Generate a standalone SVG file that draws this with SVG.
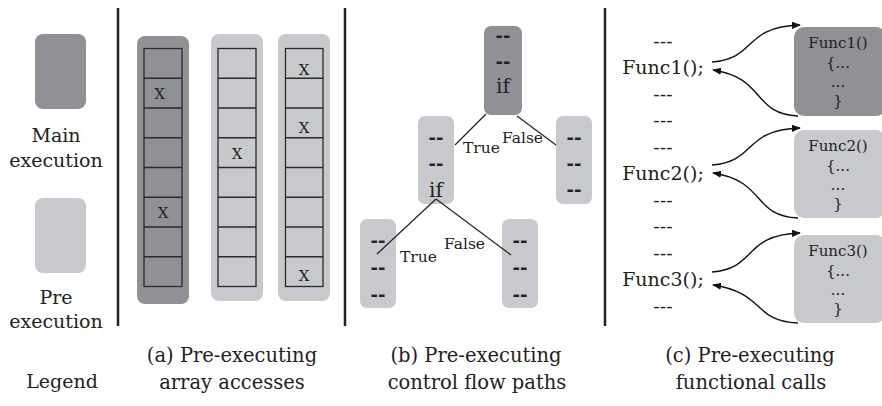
<svg xmlns="http://www.w3.org/2000/svg" width="882" height="406" viewBox="0 0 882 406">
<defs>
<style>
text{font-family:"DejaVu Serif","Liberation Serif",serif;fill:#222}
.cap{font-size:19.5px;text-anchor:middle}
.lg{font-size:19px;text-anchor:middle}
.dark{fill:#909195}
.light{fill:#c8c9cc}
.sep{stroke:#222;stroke-width:2.5}
.cell{fill:none;stroke:#2a2a2a;stroke-width:1.3}
.x{font-size:15px;text-anchor:middle}
.dd{font-size:18px;text-anchor:middle;font-weight:bold}
.iff{font-size:20px;text-anchor:middle}
.edge{stroke:#222;stroke-width:1.2;fill:none}
.lbl{font-size:15.5px}
.code{font-size:19px;text-anchor:middle}
.fn{font-size:15px;text-anchor:middle}
.call{stroke:#111;stroke-width:1.4;fill:none;marker-end:url(#ah)}
</style>
<marker id="ah" viewBox="0 0 10 10" refX="9" refY="5" markerWidth="9" markerHeight="9" markerUnits="userSpaceOnUse" orient="auto">
<path d="M0,1 L10,5 L0,9 z" fill="#111"/>
</marker>
</defs>
<rect width="882" height="406" fill="#fff"/>

<g id="separators">
<line class="sep" x1="118" y1="8" x2="118" y2="326"/>
<line class="sep" x1="345" y1="8" x2="345" y2="326"/>
<line class="sep" x1="605" y1="8" x2="605" y2="326"/>
</g>

<g id="legend">
<rect class="dark" x="35" y="34" width="51" height="75" rx="8"/>
<text class="lg" x="56" y="142">Main</text>
<text class="lg" x="56" y="167">execution</text>
<rect class="light" x="35" y="198" width="51" height="75" rx="8"/>
<text class="lg" x="56" y="304">Pre</text>
<text class="lg" x="56" y="328">execution</text>
<text class="lg" x="62" y="388">Legend</text>
</g>

<g id="array-main">
<rect class="dark" x="137" y="36" width="52" height="268" rx="8"/>
<rect class="cell" x="144" y="48.5" width="38" height="238"/>
<path class="cell" d="M144,78.25H182M144,108H182M144,137.75H182M144,167.5H182M144,197.25H182M144,227H182M144,256.75H182"/>
<text class="x" x="159.5" y="99">X</text>
<text class="x" x="163" y="218">X</text>
</g>
<g id="array-pre1">
<rect class="light" x="211" y="34" width="52" height="267" rx="8"/>
<rect class="cell" x="218" y="48.5" width="38" height="238"/>
<path class="cell" d="M218,78.25H256M218,108H256M218,137.75H256M218,167.5H256M218,197.25H256M218,227H256M218,256.75H256"/>
<text class="x" x="237" y="158.5">X</text>
</g>
<g id="array-pre2">
<rect class="light" x="278" y="34" width="52" height="267" rx="8"/>
<rect class="cell" x="285.5" y="48.5" width="37.5" height="238"/>
<path class="cell" d="M285.5,78.25H323M285.5,108H323M285.5,137.75H323M285.5,167.5H323M285.5,197.25H323M285.5,227H323M285.5,256.75H323"/>
<text class="x" x="304" y="75">X</text>
<text class="x" x="304" y="133">X</text>
<text class="x" x="304" y="281">X</text>
</g>

<g id="cf-root">
<rect class="dark" x="484" y="26" width="38" height="89" rx="7"/>
<text class="dd" x="503" y="42">--</text>
<text class="dd" x="503" y="68">--</text>
<text class="iff" x="503" y="93">if</text>
</g>
<g id="cf-true">
<rect class="light" x="418" y="116" width="36" height="88" rx="7"/>
<text class="dd" x="436" y="144">--</text>
<text class="dd" x="436" y="170">--</text>
<text class="iff" x="436" y="197">if</text>
</g>
<g id="cf-false">
<rect class="light" x="556" y="116" width="36" height="88" rx="7"/>
<text class="dd" x="574" y="144">--</text>
<text class="dd" x="574" y="170">--</text>
<text class="dd" x="574" y="196">--</text>
</g>
<g id="cf-true-true">
<rect class="light" x="360" y="219" width="36" height="89" rx="7"/>
<text class="dd" x="378" y="247">--</text>
<text class="dd" x="378" y="274">--</text>
<text class="dd" x="378" y="301">--</text>
</g>
<g id="cf-true-false">
<rect class="light" x="502" y="219" width="36" height="89" rx="7"/>
<text class="dd" x="520" y="247">--</text>
<text class="dd" x="520" y="274">--</text>
<text class="dd" x="520" y="301">--</text>
</g>

<g id="code">
<text class="code" x="663" y="48">---</text>
<text class="code" x="663" y="74">Func1();</text>
<text class="code" x="663" y="101">---</text>
<text class="code" x="663" y="127">---</text>
<text class="code" x="663" y="154">---</text>
<text class="code" x="663" y="180">Func2();</text>
<text class="code" x="663" y="207">---</text>
<text class="code" x="663" y="233">---</text>
<text class="code" x="663" y="260">---</text>
<text class="code" x="663" y="286">Func3();</text>
<text class="code" x="663" y="313">---</text>
</g>
<g id="func1">
<rect class="dark" x="794" y="27" width="92" height="89" rx="10"/>
<text class="fn" x="838" y="48">Func1()</text>
<text class="fn" x="838" y="68">{...</text>
<text class="fn" x="838" y="87">...</text>
<text class="fn" x="838" y="106">}</text>
</g>
<g id="func2">
<rect class="light" x="794" y="130" width="92" height="88" rx="10"/>
<text class="fn" x="838" y="151">Func2()</text>
<text class="fn" x="838" y="171">{...</text>
<text class="fn" x="838" y="190">...</text>
<text class="fn" x="838" y="209">}</text>
</g>
<g id="func3">
<rect class="light" x="794" y="235" width="92" height="88" rx="10"/>
<text class="fn" x="838" y="256">Func3()</text>
<text class="fn" x="838" y="276">{...</text>
<text class="fn" x="838" y="295">...</text>
<text class="fn" x="838" y="314">}</text>
</g>

<g id="connectors">
<line class="edge" x1="486" y1="114" x2="455" y2="145"/>
<line class="edge" x1="517" y1="116" x2="556" y2="145"/>
<line class="edge" x1="436" y1="199" x2="377" y2="254"/>
<line class="edge" x1="436" y1="199" x2="511" y2="255"/>
<text class="lbl" x="463" y="153">True</text>
<text class="lbl" x="502" y="143">False</text>
<text class="lbl" x="400" y="262">True</text>
<text class="lbl" x="444" y="249">False</text>
<path class="call" d="M712,62 C758,58 742,27 800,25"/>
<path class="call" d="M798,116 C752,114 766,78 713,70"/>
<path class="call" d="M712,165 C758,161 742,130 800,128"/>
<path class="call" d="M798,218 C752,216 766,181 713,173"/>
<path class="call" d="M712,272 C758,268 742,235 800,233"/>
<path class="call" d="M798,323 C752,321 766,293 713,285"/>
</g>

<g id="captions">
<text class="cap" x="232" y="362">(a) Pre-executing</text>
<text class="cap" x="232" y="389">array accesses</text>
<text class="cap" x="476" y="362">(b) Pre-executing</text>
<text class="cap" x="477" y="389">control flow paths</text>
<text class="cap" x="750" y="362">(c) Pre-executing</text>
<text class="cap" x="751" y="389">functional calls</text>
</g>
</svg>
